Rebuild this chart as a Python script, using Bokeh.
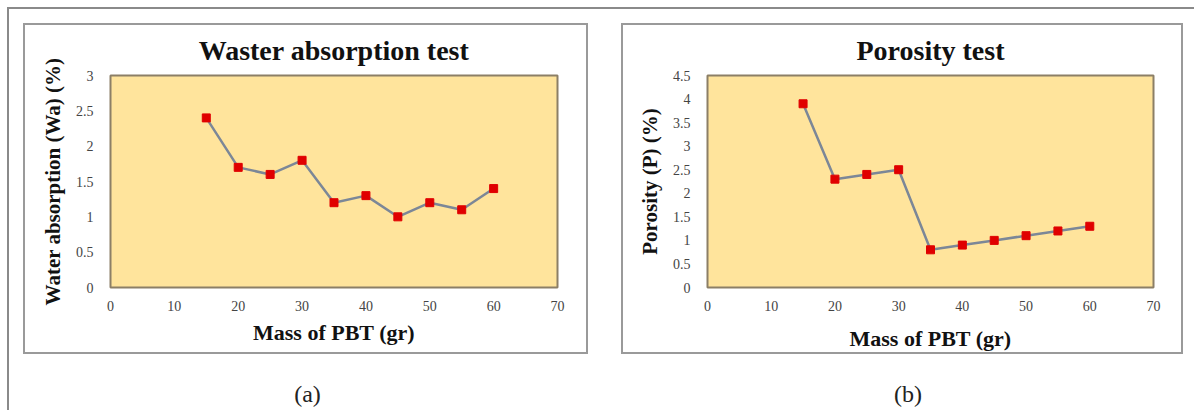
from bokeh.plotting import figure
from bokeh.layouts import column, row
from bokeh.models import Div, FixedTicker, NumeralTickFormatter, Range1d, Title
from bokeh.embed import file_html
from bokeh.resources import INLINE

# ---- data ----
mass_pbt = [15, 20, 25, 30, 35, 40, 45, 50, 55, 60]
water_absorption = [2.4, 1.7, 1.6, 1.8, 1.2, 1.3, 1.0, 1.2, 1.1, 1.4]
porosity = [3.9, 2.3, 2.4, 2.5, 0.8, 0.9, 1.0, 1.1, 1.2, 1.3]
x_ticks = [0, 10, 20, 30, 40, 50, 60, 70]
y_ticks_a = [0, 0.5, 1, 1.5, 2, 2.5, 3]
y_ticks_b = [0, 0.5, 1, 1.5, 2, 2.5, 3, 3.5, 4, 4.5]

SERIF = "Liberation Serif"


def make_panel(title, ylabel, y, yticks, ymax, width, left, right, xlab_standoff):
    p = figure(width=width, height=331, output_backend="svg", toolbar_location=None,
               x_range=Range1d(0, 70), y_range=Range1d(0, ymax),
               min_border_left=left, min_border_right=right,
               min_border_top=50, min_border_bottom=69)
    p.add_layout(Title(text=title, text_font=SERIF, text_font_size="28px",
                       text_font_style="bold", align="center", text_color="#111111",
                       vertical_align="middle", standoff=17), "above")
    p.background_fill_color = "#FFE49C"
    p.border_fill_color = "white"
    p.outline_line_color = "#8c7f66"
    p.outline_line_width = 2
    p.xgrid.visible = False
    p.ygrid.visible = False
    for ax in (p.xaxis[0], p.yaxis[0]):
        ax.axis_line_color = None
        ax.major_tick_line_color = None
        ax.minor_tick_line_color = None
        ax.major_label_text_font = SERIF
        ax.major_label_text_font_size = "14px"
        ax.major_label_text_color = "#444444"
        ax.axis_label_text_font = SERIF
        ax.axis_label_text_font_style = "bold"
        ax.axis_label_text_color = "#111111"
    p.xaxis.axis_label_text_font_size = "22px"
    p.yaxis.axis_label_text_font_size = "21px"
    p.xaxis.ticker = FixedTicker(ticks=x_ticks)
    p.yaxis.ticker = FixedTicker(ticks=yticks)
    p.yaxis.formatter = NumeralTickFormatter(format="0.[0]")
    p.xaxis.major_label_standoff = 7
    p.yaxis.major_label_standoff = 11
    p.xaxis.axis_label = "Mass of PBT (gr)"
    p.yaxis.axis_label = ylabel
    p.xaxis.axis_label_standoff = xlab_standoff
    p.yaxis.axis_label_standoff = 8
    p.line(mass_pbt, y, line_color="#7c8797", line_width=2.5)
    p.scatter(mass_pbt, y, marker="square", size=8, fill_color="#e00000",
              line_color="#e00000")
    p.styles = {"border": "2px solid #9a9a9a"}
    return p


p1 = make_panel("Waster absorption test", "Water absorption (Wa) (%)",
                water_absorption, y_ticks_a, 3, 565, 85, 33, 6)
p2 = make_panel("Porosity test", "Porosity (P) (%)",
                porosity, y_ticks_b, 4.5, 562, 84, 32, 12)
p1.margin = (14, 0, 0, 14)
p2.margin = (14, 0, 0, 33)

cap_style = {"text-align": "center", "font-family": SERIF, "font-size": "24px",
             "color": "#222222", "width": "100%"}
d1 = Div(text="(a)", width=569, styles=cap_style, margin=(23, 0, 0, 14))
d2 = Div(text="(b)", width=566, styles=cap_style, margin=(23, 0, 0, 33))

layout = column(row(p1, p2), row(d1, d2), width=1187, height=403,
                margin=(7, 0, 0, 7),
                styles={"border-top": "2px solid #8a8a8a",
                        "border-left": "2px solid #8a8a8a"})

open("out.html", "w").write(file_html(layout, INLINE))
